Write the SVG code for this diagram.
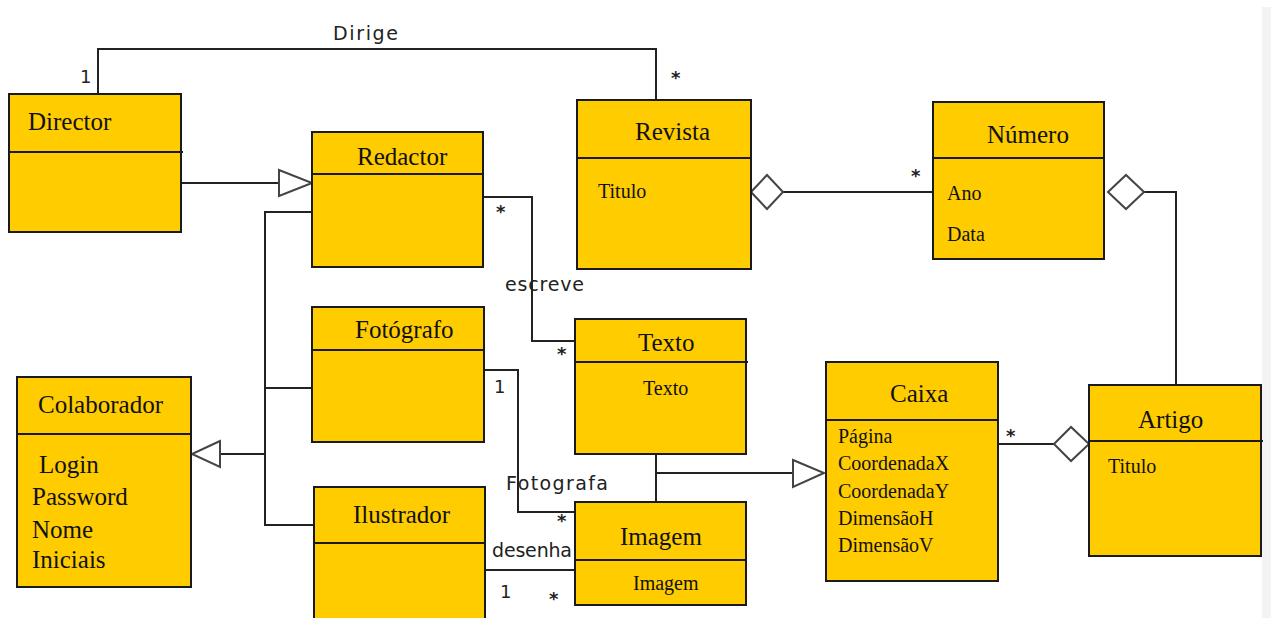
<svg xmlns="http://www.w3.org/2000/svg" width="1271" height="618" viewBox="0 0 1271 618">
<style>
.box{fill:#FFCC00;stroke:#1a1a1a;stroke-width:2}
.div{stroke:#1a1a1a;stroke-width:2}
.t{font-family:"Liberation Serif",serif;font-size:25px;fill:#111}
.a{font-family:"Liberation Serif",serif;font-size:20px;fill:#111}
.ca{font-family:"Liberation Serif",serif;font-size:25px;fill:#111}
.l{font-family:"DejaVu Sans",sans-serif;font-size:19px;fill:#222}
.m{font-family:"DejaVu Sans",sans-serif;font-size:18px;fill:#222}
.s{font-family:"DejaVu Sans",sans-serif;font-size:18px;font-weight:bold;fill:#222}
.c{fill:none;stroke:#222;stroke-width:2}
.h{fill:#fff;stroke:#444;stroke-width:2}
</style>
<rect x="0" y="0" width="1271" height="618" fill="#fff"/>
<rect x="1262" y="7" width="9" height="611" fill="#f3f3f3"/>

<g id="connectors">
  <polyline class="c" points="98,94 98,49 656,49 656,100"/>
  <line class="c" x1="181" y1="183" x2="279" y2="183"/>
  <polygon class="h" points="279,170 312,183 279,196"/>
  <polyline class="c" points="312,212 265,212 265,525 313,525"/>
  <line class="c" x1="265" y1="388" x2="312" y2="388"/>
  <line class="c" x1="220" y1="454" x2="265" y2="454"/>
  <polygon class="h" points="220,441 192,454 220,467"/>
  <line class="c" x1="783" y1="192" x2="933" y2="192"/>
  <polygon class="h" points="751,192 767,175 783,192 767,209"/>
  <polyline class="c" points="1144,192 1176,192 1176,385"/>
  <polygon class="h" points="1108,192 1126,175 1144,192 1126,209"/>
  <line class="c" x1="998" y1="444" x2="1054" y2="444"/>
  <polygon class="h" points="1054,444 1071,427 1089,444 1071,461"/>
  <polyline class="c" points="483,197 532,197 532,341 575,341"/>
  <polyline class="c" points="484,370 518,370 518,512 575,512"/>
  <line class="c" x1="485" y1="570" x2="575" y2="570"/>
  <line class="c" x1="656" y1="454" x2="656" y2="502"/>
  <line class="c" x1="656" y1="473" x2="793" y2="473"/>
  <polygon class="h" points="793,460 824,473 793,487"/>
  <text class="l" x="333" y="40" textLength="65">Dirige</text>
  <text class="m" x="80" y="83">1</text>
  <text class="s" x="671" y="84">*</text>
  <text class="s" x="911" y="182">*</text>
  <text class="s" x="1006" y="442">*</text>
  <text class="s" x="496" y="218">*</text>
  <text class="l" x="505" y="291" textLength="79">escreve</text>
  <text class="s" x="557" y="360">*</text>
  <text class="m" x="494" y="393">1</text>
  <text class="l" x="506" y="490" textLength="102">Fotografa</text>
  <text class="s" x="557" y="527">*</text>
  <text class="l" x="492" y="557" textLength="80">desenha</text>
  <text class="m" x="500" y="598">1</text>
  <text class="s" x="549" y="605">*</text>
</g>

<g id="director">
  <rect class="box" x="9" y="94" width="172" height="138"/>
  <line class="div" x1="9" y1="152" x2="183" y2="152"/>
  <text class="t" x="28" y="130">Director</text>
</g>
<g id="redactor">
  <rect class="box" x="312" y="132" width="171" height="135"/>
  <line class="div" x1="312" y1="174" x2="483" y2="174"/>
  <text class="t" x="357" y="165">Redactor</text>
</g>
<g id="revista">
  <rect class="box" x="577" y="100" width="174" height="169"/>
  <line class="div" x1="577" y1="158" x2="751" y2="158"/>
  <text class="t" x="635" y="140">Revista</text>
  <text class="a" x="598" y="198">Titulo</text>
</g>
<g id="numero">
  <rect class="box" x="933" y="102" width="171" height="157"/>
  <line class="div" x1="933" y1="158" x2="1104" y2="158"/>
  <text class="t" x="987" y="143">Número</text>
  <text class="a" x="947" y="200">Ano</text>
  <text class="a" x="947" y="241">Data</text>
</g>
<g id="colaborador">
  <rect class="box" x="17" y="377" width="174" height="210"/>
  <line class="div" x1="17" y1="434" x2="192" y2="434"/>
  <text class="ca" x="38" y="413">Colaborador</text>
  <text class="ca" x="39" y="473">Login</text>
  <text class="ca" x="32" y="505">Password</text>
  <text class="ca" x="32" y="538">Nome</text>
  <text class="ca" x="32" y="568">Iniciais</text>
</g>
<g id="fotografo">
  <rect class="box" x="312" y="307" width="172" height="135"/>
  <line class="div" x1="312" y1="350" x2="484" y2="350"/>
  <text class="t" x="355" y="338">Fotógrafo</text>
</g>
<g id="ilustrador">
  <rect class="box" x="314" y="487" width="171" height="140"/>
  <line class="div" x1="314" y1="543" x2="485" y2="543"/>
  <text class="t" x="353" y="523">Ilustrador</text>
</g>
<g id="texto">
  <rect class="box" x="575" y="319" width="171" height="135"/>
  <line class="div" x1="575" y1="362" x2="748" y2="362"/>
  <text class="t" x="638" y="351">Texto</text>
  <text class="a" x="643" y="395">Texto</text>
</g>
<g id="imagem">
  <rect class="box" x="575" y="502" width="171" height="103"/>
  <line class="div" x1="575" y1="560" x2="746" y2="560"/>
  <text class="t" x="620" y="545">Imagem</text>
  <text class="a" x="633" y="590">Imagem</text>
</g>
<g id="caixa">
  <rect class="box" x="826" y="362" width="172" height="219"/>
  <line class="div" x1="826" y1="420" x2="998" y2="420"/>
  <text class="t" x="890" y="402">Caixa</text>
  <text class="a" x="838" y="443">Página</text>
  <text class="a" x="838" y="470">CoordenadaX</text>
  <text class="a" x="838" y="498">CoordenadaY</text>
  <text class="a" x="838" y="525">DimensãoH</text>
  <text class="a" x="838" y="552">DimensãoV</text>
</g>
<g id="artigo">
  <rect class="box" x="1089" y="385" width="172" height="171"/>
  <line class="div" x1="1089" y1="441" x2="1263" y2="441"/>
  <text class="t" x="1138" y="428">Artigo</text>
  <text class="a" x="1108" y="473">Titulo</text>
</g>
</svg>
